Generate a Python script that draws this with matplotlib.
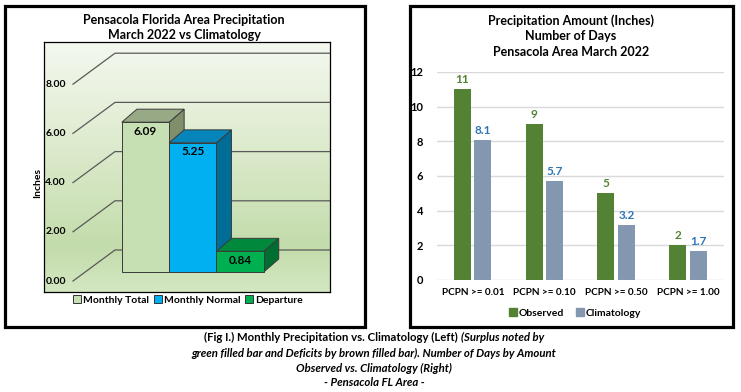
import numpy as np
import matplotlib
matplotlib.use('Agg')
import matplotlib.pyplot as plt
from matplotlib.patches import Rectangle, Polygon
from matplotlib.lines import Line2D
from matplotlib.offsetbox import TextArea, HPacker, AnnotationBbox
from matplotlib.colors import LinearSegmentedColormap

# Datos
cat_izq = ['Monthly Total', 'Monthly Normal', 'Departure']
val_izq = [6.09, 5.25, 0.84]
ticks_izq = [0, 2, 4, 6, 8]

cat_der = ['PCPN >= 0.01', 'PCPN >= 0.10', 'PCPN >= 0.50', 'PCPN >= 1.00']
observado = [11, 9, 5, 2]
climatologia = [8.1, 5.7, 3.2, 1.7]
ticks_der = [0, 2, 4, 6, 8, 10, 12]

# Colores
frente = ['#c6e0b4', '#00b0f0', '#00b050']
arriba = ['#98a986', '#0585b9', '#00883d']
lado = ['#7f8f6b', '#006d97', '#006e31']
verde = '#548235'
gris_azul = '#8497b0'
azul_txt = '#2e75b6'

plt.rcParams['font.family'] = ['Lato', 'DejaVu Sans']
plt.rcParams['font.weight'] = 'bold'

W, H = 741, 392
fig = plt.figure(figsize=(W / 100, H / 100), dpi=100)


def caja(x0, y0, x1, y1):
    # coordenadas en pixeles de la imagen (origen arriba a la izquierda)
    return [x0 / W, 1 - y1 / H, (x1 - x0) / W, (y1 - y0) / H]


def marco(x0, y0, x1, y1):
    r = Rectangle((x0 / W, 1 - y1 / H), (x1 - x0) / W, (y1 - y0) / H,
                  transform=fig.transFigure, fill=False, lw=2.3, ec='black')
    fig.add_artist(r)


marco(5, 6, 365, 327)
marco(410, 6, 733, 327)

# ---------------- Grafica izquierda (pseudo 3D) ----------------
ax1 = fig.add_axes(caja(44, 42, 330, 292))
sx, sy = 47.3, 24.6          # pixeles por unidad
xc0, y0 = 145.5, 272         # centro barra 0, base frontal

grad = np.linspace(0, 1, 256).reshape(-1, 1)
cmap = LinearSegmentedColormap.from_list(
    'fondo', [(0, '#f4f8ef'), (0.35, '#e1edd3'), (0.82, '#c3dcab'), (1, '#d3e7c2')])
ax1.imshow(grad, cmap=cmap, aspect='auto', extent=[0, 1, 0, 1],
           transform=ax1.transAxes, zorder=0)
ax1.set_xlim((44 - xc0) / sx, (330 - xc0) / sx)
ax1.set_ylim(-(292 - y0) / sy, (y0 - 42) / sy)

xf = (73 - xc0) / sx
xb = (115 - xc0) / sx
xmax = ax1.get_xlim()[1]
for t in ticks_izq:
    yf = t - 9 / sy
    yb = t + 22 / sy
    ax1.plot([xf, xb, xmax], [yf, yb, yb], color='#595959', lw=0.9, zorder=1)
    ax1.annotate(f'{t:.2f}', xy=(xf, yf), xytext=(-7, 0), textcoords='offset pixels',
                 ha='right', va='center', fontsize=7.5, fontweight='bold')

bdx, bdy = 15 / sx, 13 / sy
for i, v in enumerate(val_izq):
    l, r = i - 0.5, i + 0.5
    ax1.add_patch(Polygon([(r, 0), (r, v), (r + bdx, v + bdy), (r + bdx, bdy)],
                          closed=True, fc=lado[i], ec='#3a3a3a', lw=0.7, zorder=2 + i))
    ax1.add_patch(Polygon([(l, v), (r, v), (r + bdx, v + bdy), (l + bdx, v + bdy)],
                          closed=True, fc=arriba[i], ec='#3a3a3a', lw=0.7, zorder=2 + i))
    ax1.add_patch(Rectangle((l, 0), 1, v, fc=frente[i], ec='#3a3a3a', lw=0.7, zorder=2 + i))
    ax1.annotate(f'{v:.2f}', xy=(i, v), xytext=(0, -9), textcoords='offset pixels',
                 ha='center', va='center', fontsize=8.5, fontweight='bold', zorder=10)

ax1.set_xticks([])
ax1.set_yticks([])
for s in ax1.spines.values():
    s.set_linewidth(0.9)
    s.set_color('black')

fig.text(184 / W, 1 - 20 / H, 'Pensacola Florida Area Precipitation',
         ha='center', va='center', fontsize=9, fontweight='bold')
fig.text(184 / W, 1 - 35 / H, 'March 2022 vs Climatology',
         ha='center', va='center', fontsize=9, fontweight='bold')
fig.text(38 / W, 1 - 183 / H, 'Inches', rotation=90, ha='center', va='center',
         fontsize=7.5, fontweight='bold')

h1 = [Line2D([], [], marker='s', ls='', mfc=frente[i], mec='#333333', mew=0.7, ms=6)
      for i in range(3)]
fig.legend(h1, cat_izq, loc='center', bbox_to_anchor=(188 / W, 1 - 300 / H), ncol=3,
           frameon=False, handletextpad=0.2, columnspacing=0.5, handlelength=0.7,
           prop={'size': 7.5, 'weight': 'bold'})

# ---------------- Grafica derecha ----------------
ax2 = fig.add_axes(caja(437, 72, 724, 280))
x = np.arange(len(cat_der))
ancho = 0.237
ax2.bar(x - 0.145, observado, ancho, color=verde, zorder=2)
ax2.bar(x + 0.14, climatologia, ancho, color=gris_azul, zorder=2)
for i in range(len(x)):
    ax2.annotate(f'{observado[i]}', xy=(x[i] - 0.145, observado[i]), xytext=(0, 4),
                 textcoords='offset pixels', ha='center', va='bottom',
                 fontsize=8.5, fontweight='bold', color=verde)
    ax2.annotate(f'{climatologia[i]}', xy=(x[i] + 0.14, climatologia[i]), xytext=(0, 4),
                 textcoords='offset pixels', ha='center', va='bottom',
                 fontsize=8.5, fontweight='bold', color=azul_txt)
for t in ticks_der:
    ax2.axhline(t, color='#d9d9d9', lw=1, zorder=1)
ax2.set_xlim(-0.5, 3.5)
ax2.set_ylim(0, 12)
ax2.set_yticks(ticks_der)
ax2.set_xticks(x)
ax2.set_xticklabels(cat_der)
ax2.tick_params(length=0, labelsize=8, pad=10)
ax2.tick_params(axis='x', pad=6, labelsize=7.2)
for s in ax2.spines.values():
    s.set_visible(False)

for k, linea in enumerate(['Precipitation Amount (Inches)', 'Number of Days',
                           'Pensacola Area March 2022']):
    fig.text(571 / W, 1 - (21 + 15.5 * k) / H, linea, ha='center', va='center',
             fontsize=9, fontweight='bold')

h2 = [Line2D([], [], marker='s', ls='', mfc=c, mec=c, ms=5.5) for c in [verde, gris_azul]]
fig.legend(h2, ['Observed', 'Climatology'], loc='center',
           bbox_to_anchor=(575 / W, 1 - 313 / H), ncol=2, frameon=False,
           handletextpad=0.2, columnspacing=1.2, handlelength=0.7,
           prop={'size': 7.5, 'weight': 'bold'})

# ---------------- Leyenda inferior ----------------
p1 = TextArea('(Fig I.) Monthly Precipitation vs. Climatology (Left)',
              textprops=dict(fontsize=8.2, fontweight='bold'))
p2 = TextArea('(Surplus noted by',
              textprops=dict(fontsize=8.2, fontweight='bold', style='italic'))
fila = HPacker(children=[p1, p2], align='baseline', pad=0, sep=2)
ab = AnnotationBbox(fila, (374 / W, 1 - 337 / H), xycoords='figure fraction',
                    box_alignment=(0.5, 0.5), frameon=False)
fig.add_artist(ab)
for y, linea in [(353, 'green filled bar and Deficits by brown filled bar). Number of Days by Amount'),
                 (368, 'Observed vs. Climatology (Right)'),
                 (382, '- Pensacola FL Area -')]:
    fig.text(374 / W, 1 - y / H, linea, ha='center', va='center', fontsize=8.2,
             fontweight='bold', style='italic')

fig.savefig('out.png', dpi=100)
